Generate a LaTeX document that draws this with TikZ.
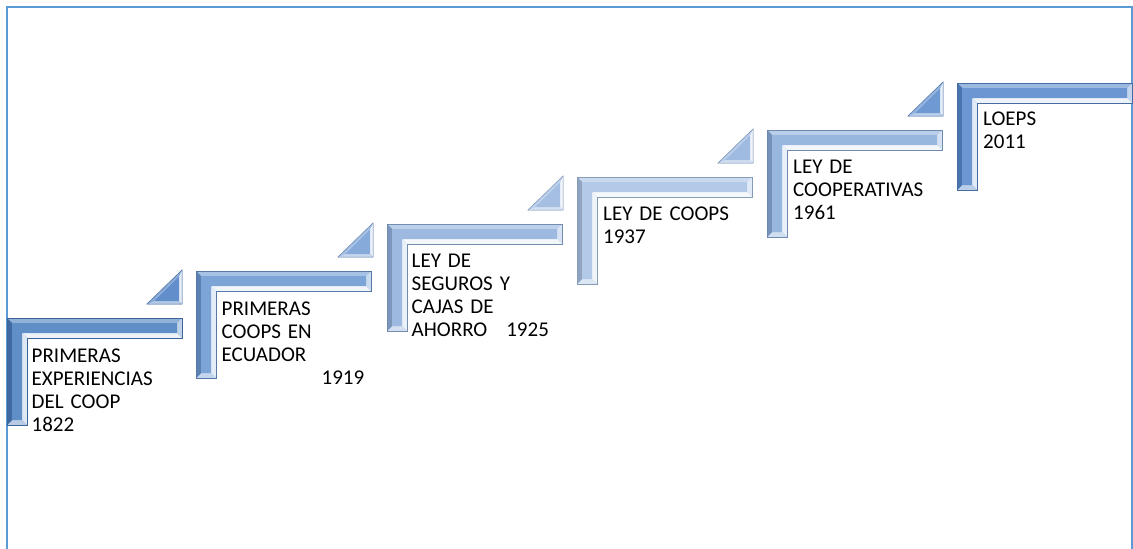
\documentclass[tikz,border=0pt]{standalone}
\usepackage{fontspec}
\setmainfont{Carlito}
\definecolor{framec}{HTML}{5B9BD5}
\definecolor{sA}{HTML}{4A7EBF}
\definecolor{sB}{HTML}{6A98D2}
\definecolor{sC}{HTML}{90B0DC}
\definecolor{sD}{HTML}{A8C2E4}
\definecolor{sE}{HTML}{8AADDB}
\definecolor{sF}{HTML}{5788CB}
\definecolor{tB}{HTML}{5A89C8}
\definecolor{tC}{HTML}{80A6D8}
\definecolor{tD}{HTML}{A0BCE2}
\definecolor{tE}{HTML}{9AB7E0}
\definecolor{tF}{HTML}{6694D0}
\tikzset{
  lbl/.style={anchor=base west, inner sep=0pt, text width=220pt, align=left,
    font=\fontsize{21}{23}\selectfont, text=black},
  frameline/.style={draw=framec, line width=2pt},
}
\newcommand\stepshape[3]{%
\begin{scope}[shift={(#1,#2)}]
 \fill[#3] (0,0) -- (175,0) -- (175,20) -- (20,20) -- (20,107) -- (0,107) -- cycle;
 \fill[#3!60!white] (0,0) -- (175,0) -- (170,5) -- (5,5) -- cycle;
 \fill[#3!35!white] (175,0) -- (175,20) -- (170,15) -- (170,5) -- cycle;
 \fill[#3!10!white] (175,20) -- (20,20) -- (15,15) -- (170,15) -- cycle;
 \fill[#3!18!white] (20,20) -- (20,107) -- (15,102) -- (15,15) -- cycle;
 \fill[#3!40!white] (20,107) -- (0,107) -- (5,102) -- (15,102) -- cycle;
 \fill[#3!85!black] (0,107) -- (0,0) -- (5,5) -- (5,102) -- cycle;
 \fill[#3!88!white] (5,5) -- (170,5) -- (170,15) -- (15,15) -- (15,102) -- (5,102) -- cycle;
 \draw[#3!80!black, line width=0.6pt] (0,0) -- (175,0) -- (175,20) -- (20,20) -- (20,107) -- (0,107) -- cycle;
\end{scope}}
\newcommand\steptri[3]{%
\begin{scope}[shift={(#1,#2)}]
 \fill[#3] (-35,0) -- (0,0) -- (0,-34) -- cycle;
 \fill[#3!70!white] (-35,0) -- (0,-34) -- (-3,-27) -- (-27.6,-3) -- cycle;
 \fill[#3!15!white] (0,-34) -- (0,0) -- (-3,-3) -- (-3,-27) -- cycle;
 \fill[#3!45!white] (0,0) -- (-35,0) -- (-27.6,-3) -- (-3,-3) -- cycle;
 \fill[#3!95!white] (-27.6,-3) -- (-3,-3) -- (-3,-27) -- cycle;
 \draw[#3!80!black, line width=0.5pt] (-35,0) -- (0,0) -- (0,-34) -- cycle;
\end{scope}}
\begin{document}
\begin{tikzpicture}[x=1pt,y=-1pt]
\useasboundingbox (0,0) rectangle (1133,549);
\clip (0,0) rectangle (1133,549);
\fill[white] (0,0) rectangle (1133,549);
\draw[frameline] (6.5,560) -- (6.5,6.5) -- (1131.5,6.5) -- (1131.5,560);

\steptri{182}{304}{tB}
\steptri{373}{257}{tC}
\steptri{563}{210}{tD}
\steptri{753}{163}{tE}
\steptri{943}{116}{tF}

\stepshape{7}{318}{sA}
\stepshape{196}{271}{sB}
\stepshape{387}{224}{sC}
\stepshape{577}{177}{sD}
\stepshape{767}{130}{sE}
\stepshape{957}{83}{sF}

\node[lbl] (t1) at (31.5,362) {PRIMERAS\\EXPERIENCIAS\\DEL COOP\\1822};
\node[lbl] (t2) at (221.5,315) {PRIMERAS\\COOPS EN\\ECUADOR\\\hspace*{100pt}1919};
\node[lbl] (t3) at (411.5,267) {LEY DE\\SEGUROS Y\\CAJAS DE\\AHORRO\hspace{19pt}1925};
\node[lbl] (t4) at (603,220) {LEY DE COOPS\\1937};
\node[lbl] (t5) at (793,173) {LEY DE\\COOPERATIVAS\\1961};
\node[lbl] (t6) at (983,125) {LOEPS\\2011};
\end{tikzpicture}
\end{document}
